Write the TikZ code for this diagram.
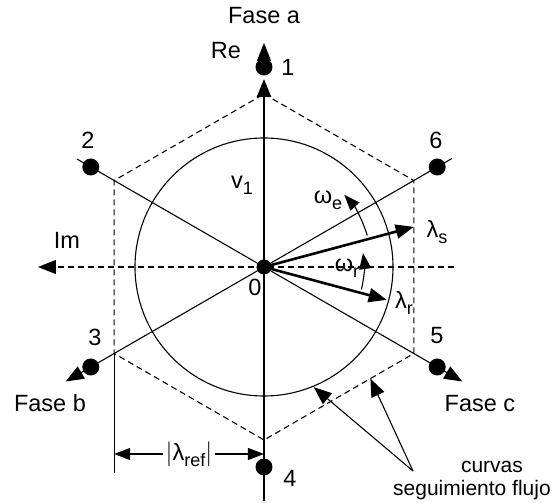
\documentclass[tikz,border=0pt]{standalone}
\usepackage{fontspec}
\setmainfont{Liberation Sans}
\usetikzlibrary{arrows.meta,calc}

\newcommand{\lowsub}[1]{\raisebox{-6pt}{\fontsize{18}{18}\selectfont #1}}

\begin{document}
\begin{tikzpicture}[x=1pt,y=1pt,
    lbl/.style={font=\fontsize{23.5}{27}\selectfont, inner sep=0pt},
    small/.style={font=\fontsize{21}{25}\selectfont, inner sep=0pt},
    tri/.style={-{Triangle[length=18pt,width=14pt]}},
    trism/.style={-{Triangle[length=16pt,width=12pt]}},
    thin/.style={line width=1.1pt},
    thk/.style={line width=2.6pt},
    hexa/.style={line width=1.1pt, dash pattern=on 6pt off 4pt}]
    \useasboundingbox (-264,-236) rectangle (291,267);

    % Centre and corners
    \coordinate (O) at (0,0);
    \foreach \k/\a in {1/90,6/30,5/-30,4/-90,3/-150,2/150} {
        \coordinate (h\k) at (\a:173);
        \coordinate (p\k) at (\a:200);
    }
    \coordinate (e2) at (150:216);
    \coordinate (e6) at (30:217);
    \coordinate (tb) at (-150:229);
    \coordinate (tc) at (-30:229);
    \coordinate (ta) at (90:224);
    \coordinate (re) at (90:188);
    \coordinate (bot) at (0,-234);
    \coordinate (imR) at (190,0);
    \coordinate (imL) at (-226,0);

    % Hexagon and circle
    \draw[hexa] (h1) -- (h6) -- (h5) -- (h4) -- (h3) -- (h2) -- cycle;
    \draw[thin] (O) circle (129);

    % Axes
    \draw[hexa, tri] (imR) -- (imL);
    \draw[thk, tri] (O) -- (re);
    \draw[thin, tri] (p1) -- (ta);
    \draw[thin] (O) -- (bot);
    \draw[thin, tri] (e2) -- (tc);
    \draw[thin, tri] (e6) -- (tb);

    % Extension line for the dimension
    \draw[thin] (h3) -- (h3 |- 0,-206);

    % Flux vectors
    \draw[thk, tri] (O) -- (15:155) coordinate (ls);
    \draw[thk, tri] (O) -- (-15:127) coordinate (lr);
    \draw[thin, trism] (17:108) arc (17:42:108);
    \draw[thin, trism] (-13:100) arc (-13:8:100);

    % Dots
    \foreach \k in {1,...,6}
        \fill (p\k) circle (8.5);
    \fill (O) circle (7.5);

    % Dimension |lambda_ref|
    \coordinate (dl) at (h3 |- 0,-187);
    \coordinate (dr) at (0,-187);
    \draw[thin, trism] (-75,-187) -- (dl);
    \draw[thin, trism] (-75,-187) -- (dr);
    \node[lbl, fill=white, inner xsep=3pt, inner ysep=2pt] (lref) at (-75,-187) {$|$λ\lowsub{ref}$|$};

    % Tracking curves
    \coordinate (cv) at (149,-204);
    \coordinate (cc) at (-67.5:130);
    \coordinate (ch) at ($(h4)!0.71!(h5)$);
    \draw[thin, tri] (cv) -- (cc);
    \draw[thin, tri] (cv) -- (ch);

    % Labels
    \node[lbl] (fa) at (0,251) {Fase a};
    \node[lbl] (lre) at (-38,216) {Re};
    \node[lbl] (n1) at (24,200) {1};
    \node[lbl] (n2) at (-176,127) {2};
    \node[lbl] (n6) at (172,127) {6};
    \node[lbl] (n3) at (-169,-70) {3};
    \node[lbl] (n5) at (173,-69) {5};
    \node[lbl] (n4) at (26,-211) {4};
    \node[lbl] (fb) at (-214,-136) {Fase b};
    \node[lbl] (fc) at (216,-137) {Fase c};
    \node[lbl] (lim) at (-197,27) {Im};
    \node[lbl] (n0) at (-9,-20) {0};
    \node[lbl] (v1) at (-22,82) {v\lowsub{1}};
    \node[lbl] (we) at (64,67) {ω\lowsub{e}};
    \node[lbl] (lls) at (173,35) {λ\lowsub{s}};
    \node[lbl] (wr) at (83,-1) {ω\lowsub{r}};
    \node[lbl] (llr) at (140,-36) {λ\lowsub{r}};
    \node[small] (cu1) at (228,-200) {curvas};
    \node[small] (cu2) at (208,-223) {seguimiento flujo};
\end{tikzpicture}
\end{document}
